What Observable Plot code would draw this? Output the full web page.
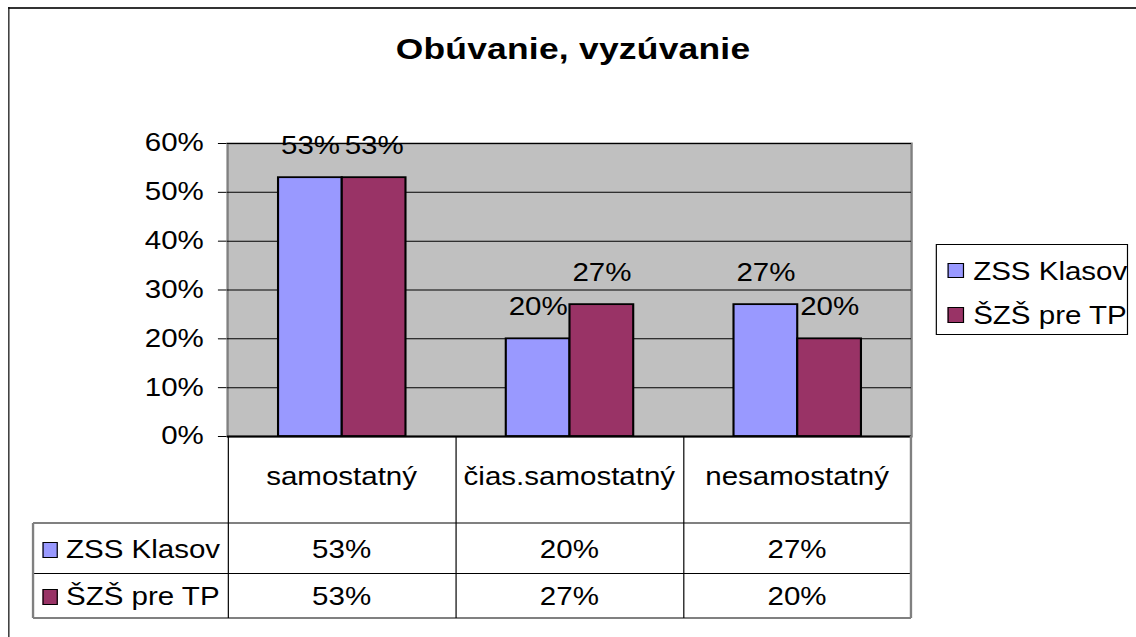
<!DOCTYPE html>
<html><head><meta charset="utf-8">
<script src="https://cdn.jsdelivr.net/npm/d3@7"></script>
<script src="https://cdn.jsdelivr.net/npm/@observablehq/plot@0.6"></script>
<style>
html,body{margin:0;padding:0;background:#fff;overflow:hidden;width:1136px;height:637px}
#stage{position:absolute;left:0;top:0;width:962.71px;height:637px;transform:scaleX(1.18);transform-origin:0 0;font-family:"Liberation Sans",Arial,sans-serif;color:#000;overflow:hidden}
.abs{position:absolute;box-sizing:border-box}
#stage svg{position:absolute;left:0;top:0;overflow:visible}
</style></head><body><div id="stage"></div><script>
// ---- data ----
const title = "Obúvanie, vyzúvanie";
const categories = ["samostatný", "čias.samostatný", "nesamostatný"];
const seriesNames = ["ZSS Klasov", "ŠZŠ pre TP"];
const zssKlasov = [0.53, 0.20, 0.27];
const szsPreTP = [0.53, 0.27, 0.20];
const yTicks = [0, 0.1, 0.2, 0.3, 0.4, 0.5, 0.6];
const colors = ["#9999FF", "#993366"];

const seriesValues = [zssKlasov, szsPreTP];
const rows = [];
categories.forEach((c, i) => seriesNames.forEach((s, j) => rows.push({category: c, series: s, value: seriesValues[j][i]})));
const fmt = d3.format(".0%");

// ---- layout (logical units; stage is stretched horizontally) ----
const S = 1.18;
const W = 1136 / S, H = 637;
const ML = 227 / S, PR = 911 / S, MR = W - PR;
const MT = 143, PB = 436, MB = H - PB;
const FS = 25;
const stage = document.getElementById("stage");
const font = '"Liberation Sans", Arial, sans-serif';

function div(css, text) {
  const d = document.createElement("div");
  d.className = "abs";
  Object.assign(d.style, css);
  if (text != null) d.textContent = text;
  stage.appendChild(d);
  return d;
}
function hline(x1, x2, y, color, w) { div({left: x1 + "px", top: (y - w / 2) + "px", width: (x2 - x1) + "px", height: w + "px", background: color}); }
function vline(x, y1, y2, color, w) { div({left: (x - w / 2) + "px", top: y1 + "px", width: w + "px", height: (y2 - y1) + "px", background: color}); }

// outer chart border (top and left edges only; the rest runs off the canvas)
hline(8 / S, W, 8, "#333", 2);
vline(8.5 / S, 7, H, "#000", 1);

// title
div({left: "0px", width: (2 * 573 / S) + "px", top: "34px", textAlign: "center", fontSize: "30px", lineHeight: "30px", fontWeight: "bold", letterSpacing: "0.2px", whiteSpace: "nowrap"}, title);

// Layer A: plot area background, grid, y axis
const A = Plot.plot({
  width: W, height: H,
  marginLeft: ML, marginRight: MR, marginTop: MT, marginBottom: MB,
  style: {background: "transparent", fontFamily: font, fontSize: FS + "px", color: "#000", overflow: "visible"},
  x: {type: "band", domain: categories, padding: 0, axis: null},
  y: {domain: [0, 0.6], ticks: yTicks, tickFormat: fmt, tickSize: 7.7, tickPadding: 12.5, label: null, line: true},
  marks: [
    Plot.frame({fill: "#c0c0c0", stroke: "#808080", strokeWidth: 2}),
    Plot.ruleY(yTicks, {stroke: "#000", strokeWidth: 1}),
    Plot.ruleY([0], {stroke: "#000", strokeWidth: 2})
  ]
});
stage.appendChild(A);

// Layer B: grouped bars (faceted by category)
const B = Plot.plot({
  width: W, height: H,
  marginLeft: ML, marginRight: MR, marginTop: MT, marginBottom: MB,
  style: {background: "transparent", fontFamily: font, fontSize: FS + "px", color: "#000", overflow: "visible"},
  facet: {data: rows, x: "category"},
  fx: {domain: categories, padding: 0, axis: null, label: null},
  x: {domain: seriesNames, paddingInner: 0, paddingOuter: 0.766, axis: null},
  y: {domain: [0, 0.6], axis: null},
  color: {domain: seriesNames, range: colors},
  marks: [
    Plot.barY(rows, {x: "series", y: "value", fill: "series", stroke: "#000", strokeWidth: 1.8}),
    Plot.text(rows, {x: "series", y: "value", text: d => fmt(d.value), lineAnchor: "bottom", dy: -23.5, fontSize: FS, fill: "#000"})
  ]
});
stage.appendChild(B);

// ---- data table ----
let colX, bw;
try {
  const xs = A.scale("x");
  bw = xs.bandwidth;
  colX = categories.map(c => xs.apply(c));
  if (!isFinite(bw) || colX.some(v => !isFinite(v))) throw 0;
} catch (e) {
  bw = (PR - ML) / categories.length;
  colX = categories.map((c, i) => ML + i * bw);
}
const c0 = 33 / S, cEnd = colX[colX.length - 1] + bw;
const r0 = PB, r1 = 523, r2 = 573, r3 = 618;

// header row (categories)
categories.forEach((c, i) => {
  div({left: colX[i] + "px", top: r0 + "px", width: bw + "px", height: "80px", lineHeight: "80px", textAlign: "center", fontSize: FS + "px", whiteSpace: "nowrap"}, c);
});
// series rows
const rowTops = [r1, r2], rowLH = [53, 47];
seriesNames.forEach((s, j) => {
  const top = rowTops[j];
  const h = (j === 0 ? r2 - r1 : r3 - r2);
  div({left: (42 / S) + "px", top: (top + h / 2 - 8 + (j === 0 ? 2 : 1)) + "px", width: (16 / S) + "px", height: "16px", background: colors[j], border: "1.5px solid #000"});
  div({left: (66 / S) + "px", top: top + "px", height: h + "px", lineHeight: rowLH[j] + "px", fontSize: FS + "px", whiteSpace: "nowrap"}, s);
  categories.forEach((c, i) => {
    div({left: colX[i] + "px", top: top + "px", width: bw + "px", height: h + "px", lineHeight: rowLH[j] + "px", textAlign: "center", fontSize: FS + "px"}, fmt(seriesValues[j][i]));
  });
});
// table grid lines
hline(c0, cEnd, r1, "#808080", 1.5);
hline(c0, cEnd, r2, "#000", 1);
hline(c0, cEnd, r3, "#808080", 1.5);
vline(c0, r1, r3, "#808080", 1.5);
colX.forEach(x => vline(x, r0, r3, "#000", 1));
vline(cEnd, r0, r3, "#808080", 2);

// ---- legend ----
const lg = div({left: (936 / S) + "px", top: "244px", width: (192 / S) + "px", height: "91px", border: "1px solid #000", background: "#fff"});
seriesNames.forEach((s, j) => {
  const cy = [269.5, 314][j] - 244;
  const sw = document.createElement("div");
  sw.className = "abs";
  Object.assign(sw.style, {left: ((946.7 - 936) / S) + "px", top: (cy - 7.8) + "px", width: (15.6 / S) + "px", height: "15.6px", background: colors[j], border: "1.5px solid #000"});
  lg.appendChild(sw);
  const t = document.createElement("div");
  t.className = "abs";
  Object.assign(t.style, {left: ((972 - 936) / S) + "px", top: (cy - 20) + "px", height: "40px", lineHeight: "40px", fontSize: FS + "px", whiteSpace: "nowrap"});
  t.textContent = s;
  lg.appendChild(t);
});
</script></body></html>
